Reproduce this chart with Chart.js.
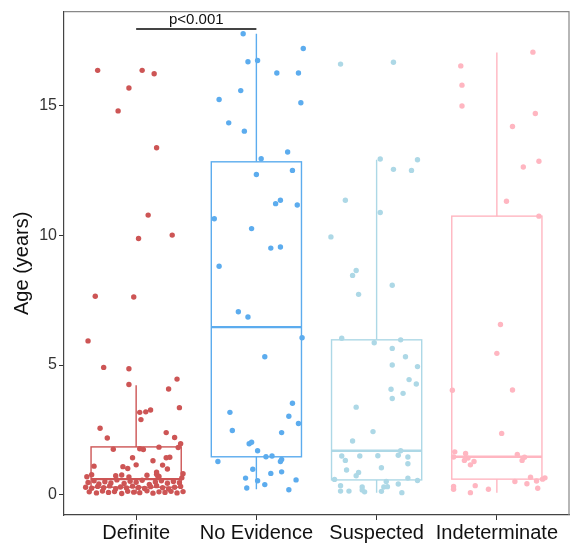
<!DOCTYPE html>
<html>
<head>
<meta charset="utf-8">
<script src="https://cdn.jsdelivr.net/npm/chart.js@4.4.1/dist/chart.umd.min.js"></script>
<style>
  html, body { margin: 0; padding: 0; background: #fff; }
  canvas { display: block; }
</style>
</head>
<body>
<canvas id="ageChart" width="574" height="546"></canvas>
<script>
// categories and axis ticks
const categories = ['Definite', 'No Evidence', 'Suspected', 'Indeterminate'];
const yTicks = [0, 5, 10, 15];

// box statistics per category (years)
const lowerWhisker = [0.05, 0.22, 0.09, 0.09];
const q1 = [0.30, 1.47, 0.58, 0.61];
const medians = [0.61, 6.46, 1.70, 1.47];
const q3 = [1.85, 12.82, 5.97, 10.73];
const upperWhisker = [4.22, 17.75, 12.90, 17.03];

// comparison bracket
const pairCompared = [0, 1];
const pairY = 17.93;
const pairLabel = 'p<0.001';

// jittered observations: age and horizontal jitter (category units)
const definiteAges = [16.34, 16.34, 16.21, 15.66, 14.78, 13.36, 10.77, 9.87, 10.0, 7.65, 7.62, 5.93, 4.91, 4.86, 4.46,
  4.25, 4.08, 3.36, 3.27, 3.20, 3.18, 2.90, 2.57, 2.40, 2.21, 2.19, 1.97, 1.84, 1.83, 1.76, 1.78, 1.75, 1.43, 1.43,
  1.45, 1.32, 1.16, 1.15, 1.11, 1.09, 1.02, 1.00, 0.88, 0.73,
  0.70, 0.78, 0.74, 0.77, 0.69, 0.76, 0.80, 0.71, 0.66, 0.82,
  0.48, 0.55, 0.42, 0.51, 0.46, 0.58, 0.44, 0.53, 0.49, 0.57, 0.41, 0.50, 0.55, 0.45, 0.52, 0.47,
  0.30, 0.26, 0.33, 0.28, 0.35, 0.24, 0.31, 0.27, 0.34, 0.29, 0.25, 0.32, 0.36, 0.28, 0.23, 0.30, 0.33,
  0.12, 0.08, 0.15, 0.10, 0.13, 0.06, 0.14, 0.11, 0.09, 0.16, 0.07, 0.12, 0.10, 0.14, 0.08, 0.13];
const definiteJitter = [-0.32, 0.05, 0.15, -0.06, -0.15, 0.17, 0.10, 0.02, 0.30, -0.34, -0.02, -0.40, -0.27, -0.06, 0.34,
  -0.06, 0.27, 0.36, 0.12, 0.08, 0.03, 0.04, -0.30, 0.25, 0.32, -0.24, 0.37, 0.19, 0.35, -0.19, 0.03, 0.06, -0.03, 0.25,
  0.28, 0.14, 0.00, 0.22, -0.35, -0.11, -0.07, 0.26, 0.17, 0.18,
  -0.41, -0.37, -0.17, -0.12, -0.06, 0.09, 0.17, 0.19, 0.38, 0.39,
  -0.40, -0.35, -0.31, -0.26, -0.21, -0.16, -0.10, -0.05, 0.00, 0.05, 0.11, 0.16, 0.21, 0.26, 0.31, 0.36,
  -0.42, -0.37, -0.32, -0.27, -0.22, -0.17, -0.13, -0.08, -0.03, 0.02, 0.07, 0.12, 0.17, 0.22, 0.27, 0.32, 0.37,
  -0.39, -0.33, -0.28, -0.23, -0.18, -0.12, -0.07, -0.02, 0.03, 0.09, 0.14, 0.19, 0.24, 0.29, 0.34, 0.39];

const noEvidenceAges = [17.75, 17.18, 16.67, 16.72, 16.24, 16.24, 15.56, 15.22, 15.09, 14.32, 14.0, 13.2, 12.94, 12.49,
  12.33, 11.34, 11.21, 11.16, 10.63, 10.25, 9.50, 9.54, 8.80, 7.05, 6.85, 6.05, 5.32, 3.18, 3.53, 3.03, 2.75, 2.48,
  2.40, 1.97, 2.03, 1.70, 1.47, 1.50, 1.37, 1.29, 1.29, 0.99, 0.89, 0.83, 0.65, 0.55, 0.58, 0.40, 0.27, 0.20];
const noEvidenceJitter = [-0.11, 0.39, -0.07, 0.01, 0.17, 0.35, -0.13, -0.31, 0.37, -0.23, -0.10, 0.26, 0.04, 0.30,
  0.00, 0.20, 0.16, 0.34, -0.35, -0.04, 0.12, 0.20, -0.31, -0.15, -0.07, 0.38, 0.07, -0.22, 0.30, 0.27, 0.35, -0.20,
  0.21, -0.06, -0.04, 0.01, 0.08, 0.13, 0.21, 0.20, -0.32, -0.03, 0.21, 0.12, -0.09, 0.01, 0.33, 0.07, -0.08, 0.27];

const suspectedAges = [16.58, 16.65, 12.93, 12.90, 12.53, 12.49, 11.34, 10.87, 9.93, 8.64, 8.45, 8.07, 7.72, 6.03,
  5.86, 5.97, 5.64, 5.32, 5.00, 4.94, 4.44, 4.27, 4.07, 3.91, 3.71, 3.38, 2.44, 2.08, 1.70, 1.53, 1.50, 1.50, 1.51,
  1.46, 1.33, 1.20, 1.05, 0.96, 0.87, 0.74, 0.60, 0.65, 0.56, 0.52, 0.36, 0.31, 0.31, 0.32, 0.42, 0.15, 0.15, 0.19,
  0.12, 0.14, 0.09];
const suspectedJitter = [-0.30, 0.14, 0.03, 0.34, 0.14, 0.29, -0.26, 0.03, -0.38, -0.17, -0.20, 0.13, -0.15, -0.29,
  -0.02, 0.20, 0.13, 0.24, 0.13, 0.34, 0.27, 0.33, 0.12, 0.22, 0.13, -0.17, -0.03, -0.20, 0.20, 0.18, -0.29, -0.14,
  0.01, 0.26, -0.26, 0.26, 0.04, -0.25, -0.15, -0.17, -0.35, 0.26, 0.34, 0.08, -0.30, -0.12, 0.06, 0.09, 0.18, -0.30,
  -0.23, -0.12, -0.10, 0.04, 0.21];

const indeterminateAges = [17.04, 16.51, 15.77, 14.97, 14.68, 14.18, 12.84, 12.62, 11.30, 10.73, 6.56, 5.45, 4.03,
  4.04, 2.37, 1.46, 1.66, 1.60, 1.33, 1.42, 1.29, 1.16, 1.56, 1.33, 1.45, 0.52, 0.68, 0.43, 0.54, 0.61, 0.66, 0.26,
  0.33, 0.22, 0.36, 0.09, 0.22];
const indeterminateJitter = [0.30, -0.30, -0.29, -0.29, 0.32, 0.13, 0.35, 0.22, 0.08, 0.35, 0.03, 0.00, -0.37, 0.13,
  0.04, -0.36, -0.35, -0.26, -0.27, -0.24, -0.19, -0.22, 0.17, 0.21, 0.23, 0.15, 0.28, 0.25, 0.33, 0.38, 0.40, 0.34,
  -0.36, -0.36, -0.18, -0.22, -0.07];

const groupAges = [definiteAges, noEvidenceAges, suspectedAges, indeterminateAges];
const groupJitter = [definiteJitter, noEvidenceJitter, suspectedJitter, indeterminateJitter];

const colors = ['#CD5555', '#5CACEE', '#ADD8E6', '#FFB6C1'];
const boxWidth = 0.75;
const fontFamily = '"Liberation Sans", Arial, Helvetica, sans-serif';

const datasets = categories.map((name, i) => ({
  label: name,
  data: groupAges[i].map((age, k) => ({ x: i + 1 + groupJitter[i][k], y: age })),
  backgroundColor: colors[i],
  borderWidth: 0,
  pointRadius: 2.7,
  pointHoverRadius: 2.7
}));

// boxes, whiskers and the comparison bracket, drawn through the chart scales
const boxPlugin = {
  id: 'boxPlugin',
  beforeDatasetsDraw(chart) {
    const { ctx, scales: { x, y } } = chart;
    ctx.save();
    categories.forEach((name, i) => {
      const left = x.getPixelForValue(i + 1 - boxWidth / 2);
      const right = x.getPixelForValue(i + 1 + boxWidth / 2);
      const mid = x.getPixelForValue(i + 1);
      ctx.strokeStyle = colors[i];
      ctx.lineWidth = 1.4;
      ctx.beginPath();
      ctx.moveTo(mid, y.getPixelForValue(q3[i]));
      ctx.lineTo(mid, y.getPixelForValue(upperWhisker[i]));
      ctx.moveTo(mid, y.getPixelForValue(q1[i]));
      ctx.lineTo(mid, y.getPixelForValue(lowerWhisker[i]));
      ctx.stroke();
      ctx.strokeRect(left, y.getPixelForValue(q3[i]), right - left,
        y.getPixelForValue(q1[i]) - y.getPixelForValue(q3[i]));
      ctx.lineWidth = 2.4;
      ctx.beginPath();
      ctx.moveTo(left, y.getPixelForValue(medians[i]));
      ctx.lineTo(right, y.getPixelForValue(medians[i]));
      ctx.stroke();
    });
    ctx.restore();
  },
  afterDatasetsDraw(chart) {
    const { ctx, scales: { x, y }, chartArea } = chart;
    ctx.save();
    const x1 = x.getPixelForValue(pairCompared[0] + 1);
    const x2 = x.getPixelForValue(pairCompared[1] + 1);
    const py = y.getPixelForValue(pairY);
    ctx.strokeStyle = '#444';
    ctx.lineWidth = 2;
    ctx.beginPath();
    ctx.moveTo(x1, py);
    ctx.lineTo(x2, py);
    ctx.stroke();
    ctx.fillStyle = '#111';
    ctx.font = '15px ' + fontFamily;
    ctx.textAlign = 'center';
    ctx.textBaseline = 'alphabetic';
    ctx.fillText(pairLabel, (x1 + x2) / 2, py - 5);
    // panel border on top and right
    ctx.strokeStyle = '#888';
    ctx.lineWidth = 1.2;
    ctx.beginPath();
    ctx.moveTo(chartArea.left, chartArea.top);
    ctx.lineTo(chartArea.right, chartArea.top);
    ctx.lineTo(chartArea.right, chartArea.bottom);
    ctx.stroke();
    ctx.restore();
  }
};

new Chart(document.getElementById('ageChart').getContext('2d'), {
  type: 'scatter',
  data: { datasets },
  options: {
    responsive: false,
    animation: false,
    events: [],
    layout: { padding: { top: 10, right: 5, left: 0, bottom: 0 } },
    plugins: {
      legend: { display: false },
      tooltip: { enabled: false }
    },
    scales: {
      x: {
        type: 'linear',
        min: 0.4,
        max: 4.6,
        afterBuildTicks: (scale) => { scale.ticks = categories.map((c, i) => ({ value: i + 1 })); },
        afterFit: (scale) => { scale.height = 31; },
        ticks: {
          callback: (value) => categories[Math.round(value) - 1] || '',
          color: '#111',
          font: { family: fontFamily, size: 20 },
          padding: 1,
          maxRotation: 0,
          autoSkip: false
        },
        grid: { drawOnChartArea: false, tickLength: 5, color: '#333', tickWidth: 1 },
        border: { color: '#444', width: 1.2 }
      },
      y: {
        min: -0.77,
        max: 18.6,
        afterBuildTicks: (scale) => { scale.ticks = yTicks.map(v => ({ value: v })); },
        afterFit: (scale) => { scale.width = 64; },
        ticks: {
          color: '#333',
          font: { family: fontFamily, size: 16 },
          padding: 2
        },
        grid: { drawOnChartArea: false, tickLength: 5, color: '#333', tickWidth: 1 },
        border: { color: '#444', width: 1.2 },
        title: {
          display: true,
          text: 'Age (years)',
          color: '#111',
          font: { family: fontFamily, size: 20 },
          padding: { top: 10, bottom: 0 }
        }
      }
    }
  },
  plugins: [boxPlugin]
});
</script>
</body>
</html>
